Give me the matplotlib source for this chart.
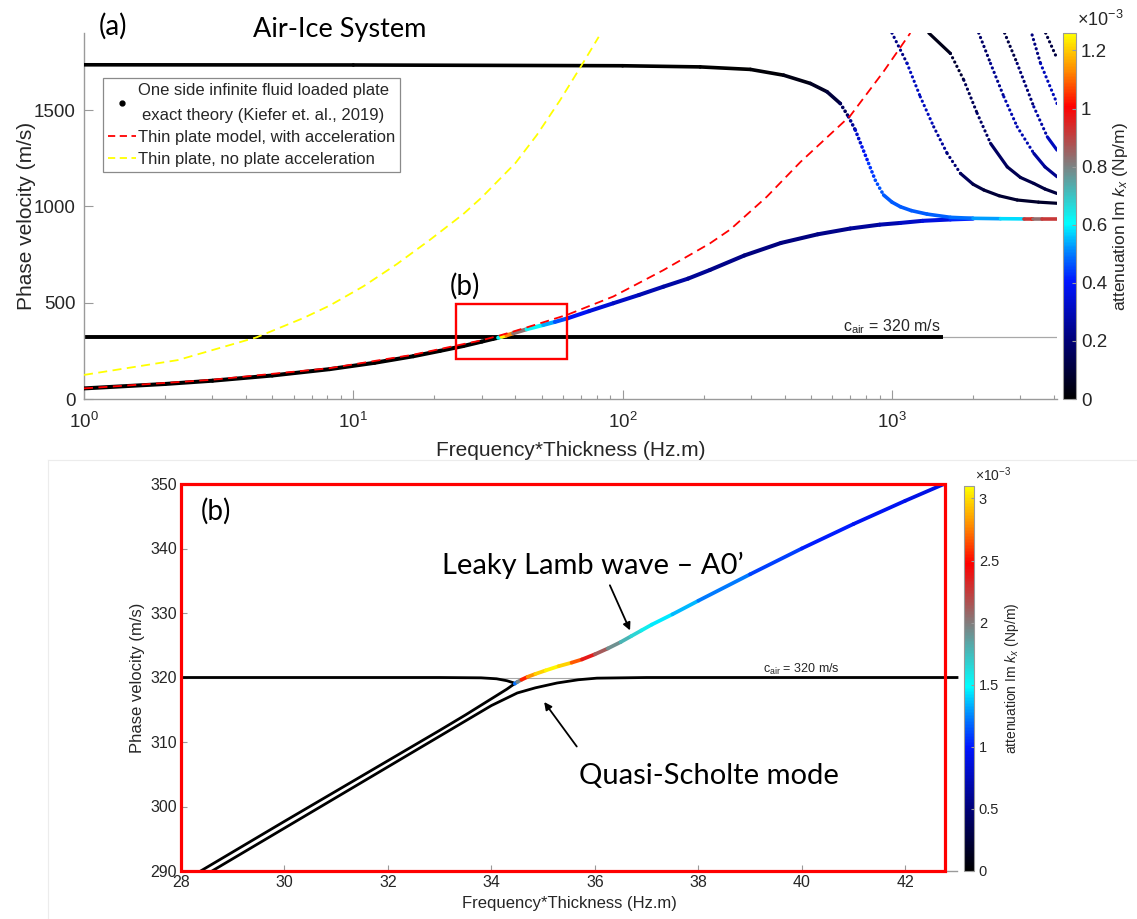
import numpy as np
import matplotlib
matplotlib.use("Agg")
import matplotlib.pyplot as plt
from matplotlib.collections import LineCollection
from matplotlib.colors import LinearSegmentedColormap, Normalize
from matplotlib.lines import Line2D
from matplotlib.patches import Rectangle
from matplotlib.ticker import FormatStrFormatter

plt.rcParams['font.family'] = ['Liberation Sans', 'DejaVu Sans']
plt.rcParams['mathtext.fontset'] = 'custom'
plt.rcParams['mathtext.rm'] = 'Liberation Sans'
plt.rcParams['mathtext.it'] = 'Liberation Sans:italic'
plt.rcParams['mathtext.sf'] = 'Liberation Sans'

# ---- data, panel (a) : fh in Hz.m, v in m/s, att in 1e-3 Np/m ----
a0_fh = [1, 2, 3, 5, 8.17, 12, 16.7, 21, 25.6, 30, 33, 34.5, 35.5, 37, 39.2, 44,
         50.7, 56, 62.5, 75, 92.3, 115, 141.7, 175, 211, 283, 387, 530, 700,
         900, 1075, 1300, 1648, 2000]
a0_v = [55, 78, 95, 122, 155, 188, 222, 250, 275, 298, 312, 318, 323, 330, 341, 362,
        384, 400, 419, 456, 497, 540, 583, 625, 670, 745, 810, 855, 885,
        905, 914, 925, 932, 936]
a0_att = [0, 0, 0, 0, 0, 0, 0, 0, 0, 0, 0, 0, 1.25, 1.25, 1.0, 0.66, 0.58, 0.5, 0.42,
          0.36, 0.33, 0.3, 0.28, 0.26, 0.24, 0.22, 0.21, 0.22, 0.24,
          0.27, 0.3, 0.33, 0.38, 0.45]

s0_fh = [1, 10, 100, 194, 298, 396, 498, 574, 643, 690, 731, 774, 819, 867,
         900, 931, 1000, 1075, 1180, 1349, 1648, 2000, 2530, 3100, 3300, 3330,
         3600, 4100]
s0_v = [1735, 1734, 1730, 1724, 1711, 1681, 1638, 1595, 1534, 1465, 1396, 1309,
        1223, 1136, 1095, 1059, 1022, 998, 978, 960, 943, 938, 936, 935, 935,
        935, 935, 935]
s0_att = [0, 0, 0, 0, 0, 0.02, 0.04, 0.08, 0.12, 0.2, 0.3, 0.35, 0.42, 0.45,
          0.46, 0.47, 0.47, 0.47, 0.47, 0.47, 0.48, 0.5, 0.56, 0.6, 1.25, 0.8,
          0.87, 0.97]

h1_fh = [1000, 1138, 1274, 1429, 1603, 1796, 2000, 2193, 2500, 2917, 3500, 4100]
h1_v = [1900, 1742, 1569, 1413, 1275, 1171, 1115, 1085, 1055, 1033, 1022, 1016]
h1_att = [0.15, 0.3, 0.32, 0.3, 0.22, 0.18, 0.13, 0.1, 0.09, 0.08, 0.07, 0.07]
h2_fh = [1370, 1648, 1849, 2072, 2323, 2680, 3000, 3363, 3700, 4100]
h2_v = [1900, 1794, 1655, 1483, 1327, 1205, 1150, 1119, 1090, 1067]
h2_att = [0.03, 0.05, 0.12, 0.17, 0.18, 0.15, 0.13, 0.12, 0.11, 0.1]
h3_fh = [2100, 2323, 2603, 2917, 3363, 3700, 4100]
h3_v = [1900, 1742, 1569, 1413, 1275, 1205, 1154]
h3_att = [0.15, 0.2, 0.28, 0.3, 0.28, 0.25, 0.22]
h4_fh = [2620, 2917, 3363, 3774, 4100]
h4_v = [1900, 1742, 1517, 1361, 1292]
h4_att = [0.08, 0.15, 0.25, 0.3, 0.32]
h5_fh = [3314, 3562, 4100]
h5_v = [1890, 1742, 1534]
h5_att = [0.15, 0.28, 0.33]
h6_fh = [3721, 4100]
h6_v = [1900, 1768]
h6_att = [0.1, 0.12]

cair_fh = [1, 1545]
cair_v = [320, 320]

tp_acc_fh = [1, 3, 8.17, 16.7, 25.6, 30, 35, 39.2, 50.7, 62.5, 92.3, 141.7,
             211, 251, 343, 457, 607, 700, 931, 1170]
tp_acc_v = [55, 100, 160, 230, 285, 305, 330, 350, 398, 438, 532, 669,
            808, 880, 1050, 1230, 1390, 1470, 1700, 1900]
tp_noacc_fh = [1, 2.23, 4.37, 6.52, 8.17, 10.9, 14.5, 19.2, 25.6, 29.9, 40, 48,
               58.5, 70.6, 81.5]
tp_noacc_v = [125, 202, 320, 420, 485, 585, 700, 825, 960, 1045, 1225, 1370,
              1550, 1735, 1880]

# ---- data, panel (b) ----
sch_fh = [28, 30, 32, 33, 33.8, 34.1, 34.3, 34.42, 34.45]
sch_v = [320, 320, 320, 320, 319.95, 319.8, 319.5, 319.2, 319.05]
a0lo_fh = [28.38, 30, 32, 33, 33.5, 34.0, 34.3, 34.45]
a0lo_v = [290, 297.7, 307.1, 311.8, 314.2, 316.7, 318.2, 319.05]
leaky_fh = [34.45, 34.5, 34.58, 34.7, 34.85, 35.05, 35.3, 35.55, 35.75, 36.0,
            36.25, 36.5, 36.7, 36.9, 37.1, 37.5, 38, 39, 40, 41, 42, 42.75]
leaky_v = [319.05, 319.3, 319.65, 320.1, 320.55, 321.1, 321.75, 322.3, 322.8,
           323.6, 324.5, 325.5, 326.4, 327.3, 328.2, 329.8, 331.9, 336.0, 340.0,
           343.8, 347.4, 350.0]
leaky_att = [0.9, 1.5, 2.4, 2.7, 2.9, 3.05, 3.1, 2.85, 2.5, 2.25, 2.0, 1.85,
             1.7, 1.6, 1.5, 1.4, 1.3, 1.15, 1.05, 0.98, 0.92, 0.88]
qs_fh = [28.6, 30, 32, 33, 34, 34.5, 34.85, 35.27, 35.68, 36.04, 37, 43]
qs_v = [290, 296.65, 306.15, 310.9, 315.65, 317.6, 318.4, 319.15, 319.65,
        319.9, 320, 320]

W, H = 1137, 919
fig = plt.figure(figsize=(W / 100, H / 100), dpi=100)


def box(l, t, r, b):
    return [l / W, 1 - b / H, (r - l) / W, (b - t) / H]


att_cmap = LinearSegmentedColormap.from_list('att', [
    (0.0, (0, 0, 0)), (0.16, (0, 0, 0.47)), (0.32, (0, 0.08, 1)),
    (0.40, (0, 0.5, 1)), (0.48, (0, 1, 1)), (0.64, (0.5, 0.5, 0.5)),
    (0.80, (1, 0, 0)), (0.90, (1, 0.55, 0)), (1.0, (1, 1, 0))])

GRAY = '#9a9a9a'
TXT = '#262626'


def colored(ax, x, y, c, norm, lw, z=3, steep=None, gap=1.4):
    pts = np.column_stack([x, y])
    segs = np.stack([pts[:-1], pts[1:]], axis=1)
    cval = 0.5 * (np.asarray(c[:-1]) + np.asarray(c[1:]))
    styles = 'solid'
    if steep is not None:
        # steep parts of the curve were sampled sparsely: they show as dots
        dlog = np.abs(np.diff(np.log10(x))) * 269
        dv = np.abs(np.diff(y)) * 0.1927
        styles = [(0, (0.05, gap)) if b > steep * a else 'solid'
                  for a, b in zip(dlog, dv)]
    lc = LineCollection(segs, cmap=att_cmap, norm=norm, linewidths=lw,
                        linestyles=styles, capstyle='round', zorder=z)
    lc.set_array(cval)
    ax.add_collection(lc)


def style_axes(ax, size):
    for s in ['top', 'right']:
        ax.spines[s].set_visible(False)
    for s in ['left', 'bottom']:
        ax.spines[s].set_color(GRAY)
        ax.spines[s].set_linewidth(1.0)
    ax.tick_params(which='both', direction='in', color=GRAY, labelcolor=TXT,
                   labelsize=size, width=0.8)


# ---------------- panel (a) ----------------
ax1 = fig.add_axes(box(84, 33, 1057, 399))
cax1 = fig.add_axes(box(1063, 33, 1076, 399))
norm1 = Normalize(0, 1.26)

ax1.set_xscale('log')
ax1.set_xlim(1, 4100)
ax1.set_ylim(0, 1900)
ax1.set_yticks([0, 500, 1000, 1500])
style_axes(ax1, 13.5)
ax1.tick_params(which='major', length=6.5)
ax1.tick_params(which='minor', length=3)
ax1.tick_params(axis='y', pad=6)
ax1.tick_params(axis='x', pad=9)

ax1.axhline(320, color='#a8a8a8', lw=0.9, zorder=1)
ax1.plot(cair_fh, cair_v, color='black', lw=2.8, zorder=2, solid_capstyle='butt')
colored(ax1, a0_fh, a0_v, a0_att, norm1, 2.9, z=3)
colored(ax1, s0_fh, s0_v, s0_att, norm1, 2.6, z=4, steep=1.6, gap=1.2)
for hx, hy, ha in [(h1_fh, h1_v, h1_att), (h2_fh, h2_v, h2_att),
                   (h3_fh, h3_v, h3_att), (h4_fh, h4_v, h4_att),
                   (h5_fh, h5_v, h5_att), (h6_fh, h6_v, h6_att)]:
    colored(ax1, hx, hy, ha, norm1, 2.3, z=3, steep=1.5, gap=1.45)

ax1.plot(tp_acc_fh, tp_acc_v, color='red', lw=1.3, ls=(0, (5, 3)), zorder=6)
ax1.plot(tp_noacc_fh, tp_noacc_v, color='#ffff00', lw=1.3, ls=(0, (5, 3)), zorder=6)

ax1.text(1520, 350, r'c$_{\mathrm{air}}$ = 320 m/s', ha='right', va='baseline',
         fontsize=11.5, color=TXT)
ax1.add_patch(Rectangle((24, 206), 62.4 - 24, 493 - 206, fill=False,
                        edgecolor='red', lw=1.7, zorder=7))
ax1.text(25.9, 585, '(b)', ha='center', va='center', fontfamily='Lato',
         fontsize=20, color='black')

ax1.set_xlabel('Frequency*Thickness (Hz.m)', fontsize=15, color=TXT, labelpad=7)
ax1.set_ylabel('Phase velocity (m/s)', fontsize=15, color=TXT, labelpad=-1.5)

handles = [Line2D([], [], ls='none', marker='.', color='black', markersize=7),
           Line2D([], [], color='red', lw=1.3, ls=(0, (4, 2.5))),
           Line2D([], [], color='#ffff00', lw=1.3, ls=(0, (4, 2.5)))]
labels = ['One side infinite fluid loaded plate\nexact theory (Kiefer et. al., 2019)',
          'Thin plate model, with acceleration',
          'Thin plate, no plate acceleration']
leg = ax1.legend(handles, labels, loc='upper left',
                 bbox_to_anchor=(103 / W, 1 - 78 / H), bbox_transform=fig.transFigure,
                 fontsize=12.0, frameon=True, fancybox=False, framealpha=1,
                 edgecolor='#8a8a8a', borderpad=0.3, handlelength=1.65,
                 handletextpad=0.15, labelspacing=0.42, borderaxespad=0)
leg.get_frame().set_linewidth(0.9)
leg.get_texts()[0].set_multialignment('center')
leg.get_texts()[0].set_linespacing(1.8)
for t in leg.get_texts():
    t.set_color(TXT)

sm1 = plt.cm.ScalarMappable(norm=norm1, cmap=att_cmap)
cb1 = fig.colorbar(sm1, cax=cax1, ticks=np.arange(0, 1.21, 0.2))
cb1.ax.yaxis.set_major_formatter(FormatStrFormatter('%g'))
cb1.ax.tick_params(labelsize=13.5, labelcolor=TXT, color=GRAY, direction='in', length=3)
cb1.outline.set_edgecolor(GRAY)
cb1.set_label(r'attenuation Im $k_x$ (Np/m)', fontsize=12.5, color=TXT, labelpad=3)
fig.text(1077 / W, 1 - 20 / H, '×10$^{-3}$', fontsize=13, color=TXT,
         ha='left', va='center')

fig.text(113 / W, 1 - 26 / H, '(a)', fontfamily='Lato', fontsize=20,
         ha='center', va='center')
fig.text(340 / W, 1 - 30 / H, 'Air-Ice System', fontfamily='Lato', fontsize=19.5,
         ha='center', va='center')

# ---------------- panel (b) ----------------
ax2 = fig.add_axes(box(181, 484, 957, 871))
cax2 = fig.add_axes(box(964, 486, 974, 871))
norm2 = Normalize(0, 3.1)

ax2.set_xlim(28, 43)
ax2.set_ylim(290, 350)
ax2.set_xticks(np.arange(28, 43, 2))
ax2.set_yticks(np.arange(290, 351, 10))
style_axes(ax2, 11.5)
ax2.tick_params(length=4.5, pad=3)

ax2.axhline(320, color='#a8a8a8', lw=0.8, zorder=1)
ax2.plot(sch_fh, sch_v, color='black', lw=2.0, zorder=3)
ax2.plot(a0lo_fh, a0lo_v, color='black', lw=2.0, zorder=3)
ax2.plot(qs_fh, qs_v, color='black', lw=2.0, zorder=3, clip_on=False)
colored(ax2, leaky_fh, leaky_v, leaky_att, norm2, 2.7, z=4)

ax2.text(40.0, 320.7, r'c$_{\mathrm{air}}$ = 320 m/s', ha='center', va='baseline',
         fontsize=9, color=TXT)
ax2.add_patch(Rectangle((28, 290), 42.77 - 28, 60, fill=False, edgecolor='red',
                        lw=2.3, zorder=10, clip_on=False))

ax2.text(28.68, 345.8, '(b)', fontfamily='Lato', fontsize=20, ha='center', va='center')
ax2.text(35.96, 337.4, 'Leaky Lamb wave – A0’', fontfamily='Lato', fontsize=21,
         ha='center', va='center')
ax2.text(38.2, 304.7, 'Quasi-Scholte mode', fontfamily='Lato', fontsize=21,
         ha='center', va='center')
arrow = dict(arrowstyle='-|>', color='black', lw=1.3, mutation_scale=11,
             shrinkA=0, shrinkB=0)
ax2.annotate('', xy=(36.68, 327.3), xytext=(36.29, 334.3), arrowprops=arrow)
ax2.annotate('', xy=(35.02, 316.2), xytext=(35.65, 309.3), arrowprops=arrow)

ax2.set_xlabel('Frequency*Thickness (Hz.m)', fontsize=12, color=TXT, labelpad=4)
ax2.set_ylabel('Phase velocity (m/s)', fontsize=12, color=TXT, labelpad=4)

sm2 = plt.cm.ScalarMappable(norm=norm2, cmap=att_cmap)
cb2 = fig.colorbar(sm2, cax=cax2, ticks=np.arange(0, 3.01, 0.5))
cb2.ax.yaxis.set_major_formatter(FormatStrFormatter('%g'))
cb2.ax.tick_params(labelsize=10.5, labelcolor=TXT, color=GRAY, direction='in', length=2.5)
cb2.outline.set_edgecolor(GRAY)
cb2.set_label(r'attenuation Im $k_x$ (Np/m)', fontsize=10, color=TXT, labelpad=3)
fig.text(975 / W, 1 - 475 / H, '×10$^{-3}$', fontsize=10, color=TXT,
         ha='left', va='center')

# faint frame left over from the composed figure
fig.add_artist(Line2D([48 / W, 1], [1 - 460 / H] * 2, color='#ececec', lw=0.8))
fig.add_artist(Line2D([48 / W] * 2, [0, 1 - 460 / H], color='#ececec', lw=0.8))

fig.savefig('out.png', dpi=100)
